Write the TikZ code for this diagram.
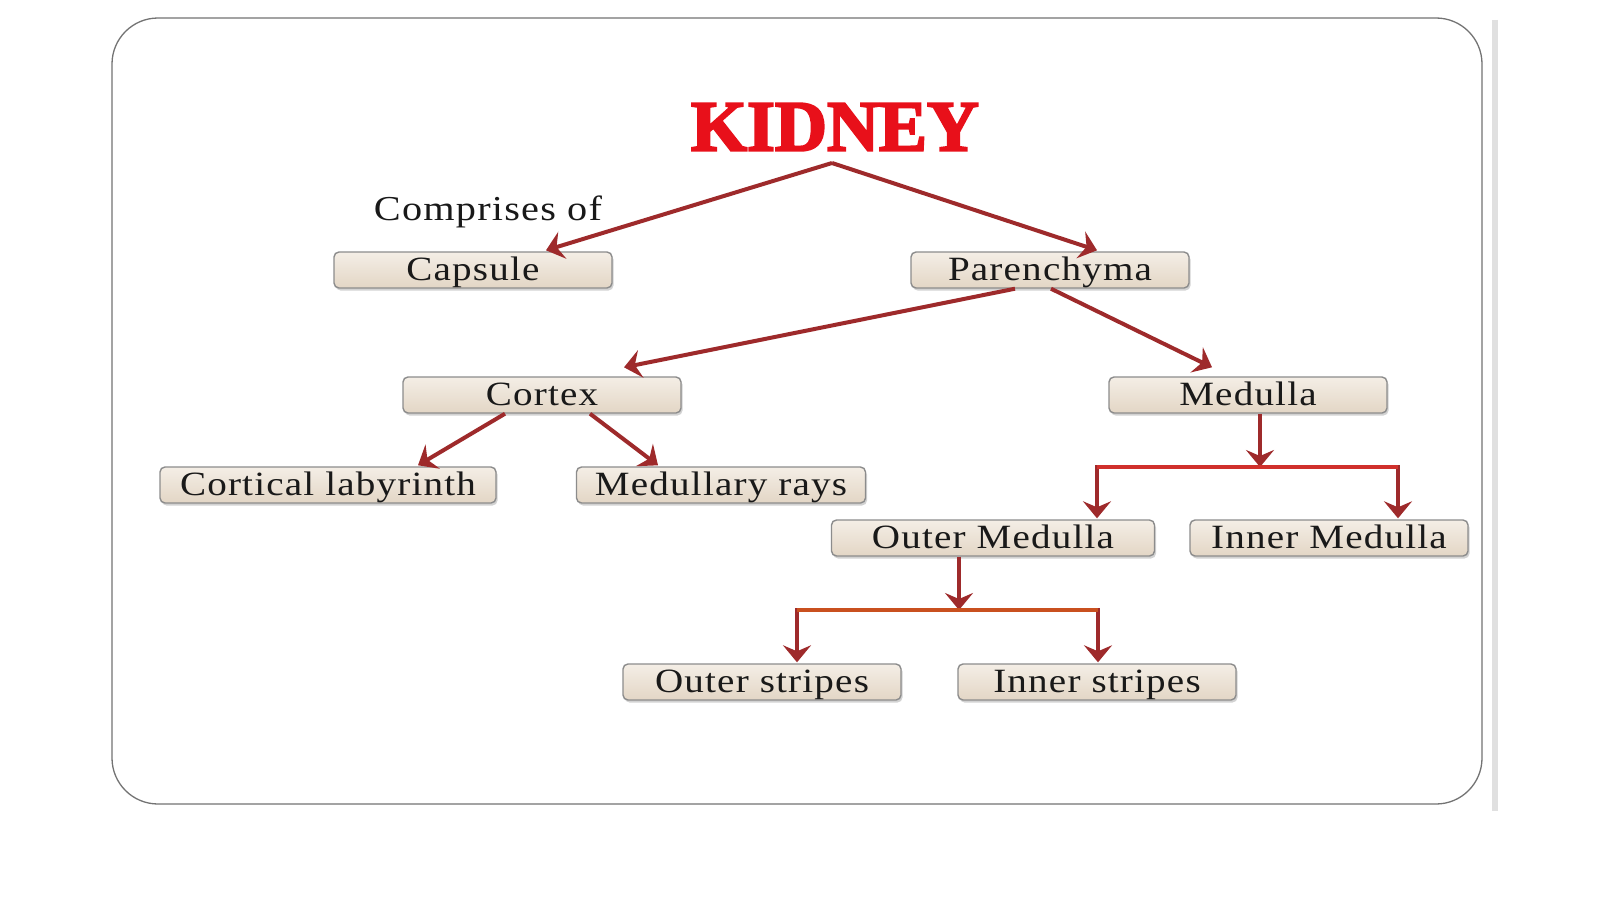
\documentclass[tikz,border=0pt]{standalone}
\usepackage{fontspec}
\setmainfont{Liberation Serif}
\newfontfamily\boxfont[FakeStretch=1.15,LetterSpace=3.5]{Liberation Serif}
\newfontfamily\titlefont[BoldFeatures={FakeBold=3}]{Liberation Serif}
\usetikzlibrary{arrows.meta,shadows,calc}
\definecolor{arrred}{HTML}{9E2A2B}
\definecolor{barred}{HTML}{D0302C}
\definecolor{barorange}{HTML}{C9501F}
\definecolor{boxtop}{HTML}{F4EEE6}
\definecolor{boxbot}{HTML}{E3D6C5}
\definecolor{boxline}{HTML}{8C8C8C}
\definecolor{kidred}{HTML}{E8101A}
\tikzset{
  box/.style={draw=boxline, line width=1.4pt, rounded corners=5pt,
    top color=boxtop, bottom color=boxbot,
    drop shadow={shadow xshift=1.5pt, shadow yshift=-2.5pt, opacity=0.35},
    minimum width=278pt, inner ysep=2pt, text height=26pt, text depth=6pt,
    font=\boxfont\fontsize{34}{40}\selectfont, text=black!90},
  arr/.style={draw=arrred, line width=4pt,
    -{Stealth[length=17pt,width=28pt,inset=6pt]}},
  barline/.style={line width=4pt}
}
\begin{document}
\begin{tikzpicture}[x=1pt,y=-1pt]
\useasboundingbox (0,0) rectangle (1600,899);
\fill[white] (0,0) rectangle (1600,899);
% frame
\draw[black!12, line width=6pt] (1495,20) -- (1495,811);
\draw[black!55, line width=1.3pt, rounded corners=46pt] (112,18) rectangle (1482,804);
% title
\node[text=kidred, inner sep=0pt, font=\titlefont\bfseries\fontsize{72}{80}\selectfont] (kidney) at (835,127) {KIDNEY};
\coordinate (apex) at (832,163);
\node[inner sep=0pt, font=\boxfont\fontsize{35}{40}\selectfont, text=black!90] (comp) at (488,212) {Comprises of};
% boxes
\node[box] (capsule) at (473,270) {Capsule};
\node[box] (paren) at (1050,270) {Parenchyma};
\node[box] (cortex) at (542,395) {Cortex};
\node[box] (medulla) at (1248,395) {Medulla};
\node[box, minimum width=336pt] (lab) at (328,485) {Cortical labyrinth};
\node[box, minimum width=289pt] (rays) at (721,485) {Medullary rays};
\node[box, minimum width=323pt] (outerm) at (993,538) {Outer Medulla};
\node[box] (innerm) at (1329,538) {Inner Medulla};
\node[box] (outs) at (762,682) {Outer stripes};
\node[box] (ins) at (1097,682) {Inner stripes};
% connectors
\draw[arr] (apex) -- ([xshift=73pt,yshift=1pt]capsule.north);
\draw[arr] (apex) -- ([xshift=47pt,yshift=1pt]paren.north);
\draw[arr] ([xshift=-35pt]paren.south) -- ([xshift=82pt,yshift=9pt]cortex.north);
\draw[arr] ([xshift=1pt]paren.south) -- ([xshift=-36pt,yshift=9pt]medulla.north);
\draw[arr] ([xshift=-37pt]cortex.south) -- ([xshift=90pt,yshift=1pt]lab.north);
\draw[arr] ([xshift=48pt]cortex.south) -- ([xshift=-63pt,yshift=1pt]rays.north);
% medulla bracket
\coordinate (mbar) at ([xshift=12pt]medulla.south |- 0,467);
\draw[arr] ([xshift=12pt]medulla.south) -- (mbar);
\draw[arr] (mbar) -| ([xshift=104pt,yshift=1pt]outerm.north);
\draw[arr] (mbar) -| ([xshift=69pt,yshift=1pt]innerm.north);
\draw[barred, barline] ([xshift=104pt]outerm.north |- mbar) -- ([xshift=69pt]innerm.north |- mbar);
% outer medulla bracket
\coordinate (obar) at ([xshift=-34pt]outerm.south |- 0,610);
\draw[arr] ([xshift=-34pt]outerm.south) -- (obar);
\draw[arr] (obar) -| ([xshift=35pt,yshift=1pt]outs.north);
\draw[arr] (obar) -| ([xshift=1pt,yshift=1pt]ins.north);
\draw[barorange, barline] ([xshift=35pt]outs.north |- obar) -- ([xshift=1pt]ins.north |- obar);
\end{tikzpicture}
\end{document}
